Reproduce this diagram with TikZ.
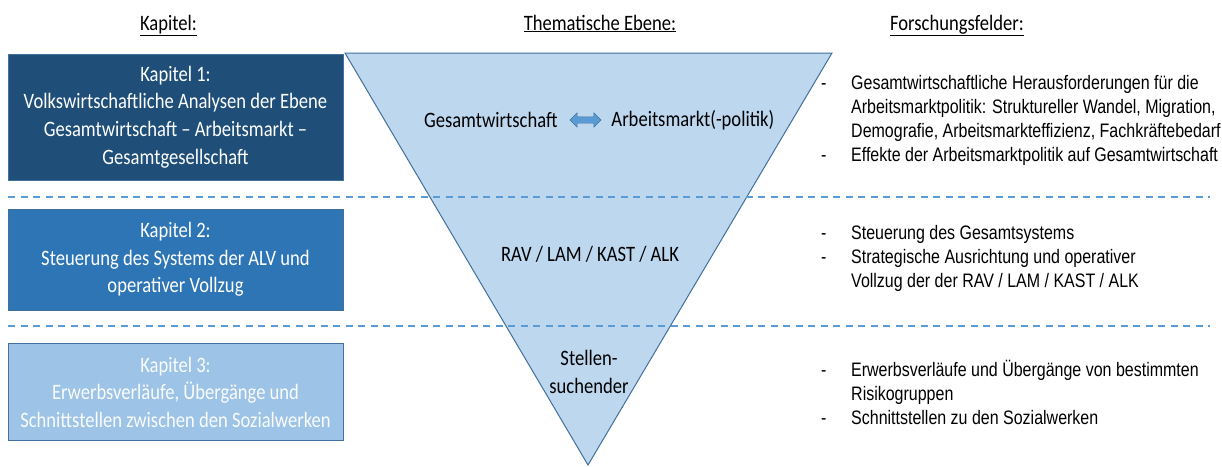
\documentclass[tikz,border=0pt]{standalone}
\usepackage{fontspec}
\setmainfont{Carlito}[FakeStretch=0.845]
\newfontfamily\arialfont{Liberation Sans}[FakeStretch=0.82]
\usetikzlibrary{positioning,shapes.arrows}

\definecolor{kapdark}{HTML}{1F4E79}
\definecolor{kapmid}{HTML}{2E75B6}
\definecolor{kaplight}{HTML}{9DC3E6}
\definecolor{trifill}{HTML}{BDD7EE}
\definecolor{triline}{HTML}{41719C}
\definecolor{sepline}{HTML}{5B9BD5}

\newcommand{\feld}[1]{\makebox[30pt][l]{-}#1}
\newcommand{\weiter}{\hspace*{30pt}}

\begin{document}
\begin{tikzpicture}[x=1pt, y=-1pt,
    every node/.style={inner sep=0pt},
    kopf/.style={anchor=base, font=\fontsize{22}{27.5}\selectfont},
    kapbox/.style={draw=triline, line width=1pt, minimum width=335pt, align=center,
                   text=white, font=\fontsize{22}{27.5}\selectfont},
    ebene/.style={align=center, font=\fontsize{22}{27.5}\selectfont},
    felder/.style={anchor=west, align=left, font=\arialfont\fontsize{19.5}{24}\selectfont},
    trenner/.style={dashed, dash pattern=on 7pt off 5.5pt, line width=2.2pt, color=sepline}]
    \fill[white] (0,0) rectangle (1222,466);
    \useasboundingbox (0,0) rectangle (1222,466);

    \node[kopf] (kkap) at (168.5,30) {\underline{Kapitel:}};
    \node[kopf] (kthem) at (600,30) {\underline{Thematische Ebene:}};
    \node[kopf] (kfeld) at (957,30) {\underline{Forschungsfelder:}};

    \filldraw[fill=trifill, draw=triline, line width=1pt] (345,53) coordinate (t1) -- (832,53) coordinate (t2) -- (588,465) coordinate (t3) -- cycle;

    \node[kapbox, fill=kapdark, minimum height=126pt] (kap1) at (175.5,117)
        {Kapitel 1:\\Volkswirtschaftliche Analysen der Ebene\\Gesamtwirtschaft -- Arbeitsmarkt --\\Gesamtgesellschaft};
    \node[kapbox, fill=kapmid, minimum height=101pt] (kap2) at (175.5,259.5)
        {Kapitel 2:\\Steuerung des Systems der ALV und\\operativer Vollzug};
    \node[kapbox, fill=kaplight, minimum height=97pt, text=white!95!kaplight] (kap3) at (175.5,392)
        {Kapitel 3:\\Erwerbsverläufe, Übergänge und\\Schnittstellen zwischen den Sozialwerken};

    \draw[trenner] (8,197) coordinate (s1a) -- (1210,197) coordinate (s1b);
    \draw[trenner] (8,326) coordinate (s2a) -- (1210,326) coordinate (s2b);

    \node[double arrow, fill=sepline, draw=triline, line width=0.4pt, inner sep=3pt,
          double arrow head extend=4pt, minimum height=31pt] (dpfeil) at (585.5,120) {};
    \node[ebene, left=12pt of dpfeil] (gesamt) {Gesamtwirtschaft};
    \node[ebene, right=10pt of dpfeil] (amarkt) {Arbeitsmarkt(-politik)};
    \node[ebene] (rav) at (590,254) {RAV / LAM / KAST / ALK};
    \node[ebene] (stellen) at (589,372) {Stellen-\\suchender};

    \node[felder] (feld1) at (821,120) {\feld{Gesamtwirtschaftliche Herausforderungen für die}\\
        \weiter Arbeitsmarktpolitik: Struktureller Wandel, Migration,\\
        \weiter Demografie, Arbeitsmarkteffizienz, Fachkräftebedarf\\
        \feld{Effekte der Arbeitsmarktpolitik auf Gesamtwirtschaft}};
    \node[felder] (feld2) at (821,258) {\feld{Steuerung des Gesamtsystems}\\
        \feld{Strategische Ausrichtung  und operativer}\\
        \weiter Vollzug der der RAV / LAM / KAST / ALK};
    \node[felder] (feld3) at (821,392) {\feld{Erwerbsverläufe und Übergänge von bestimmten}\\
        \weiter Risikogruppen\\
        \feld{Schnittstellen zu den Sozialwerken}};
\end{tikzpicture}
\end{document}
